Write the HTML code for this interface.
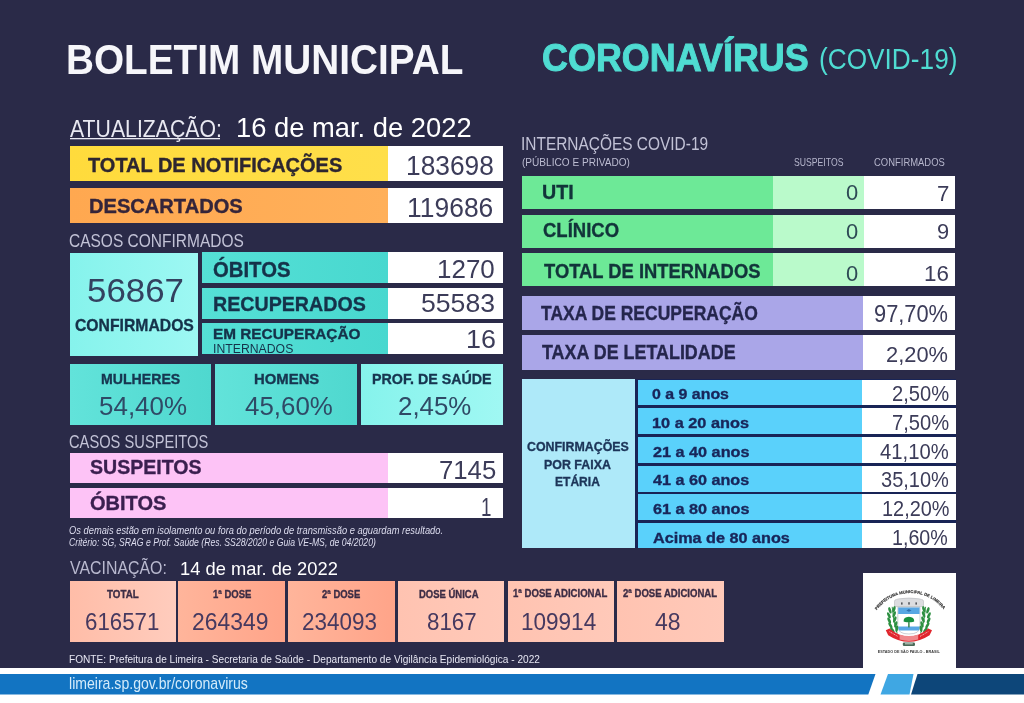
<!DOCTYPE html>
<html lang="pt-BR">
<head>
<meta charset="utf-8">
<title>Boletim Municipal - Coronavírus (COVID-19)</title>
<style>
html,body{margin:0;padding:0}
body{width:1024px;height:703px;overflow:hidden;background:#2a2a48;font-family:"Liberation Sans",sans-serif;position:relative}
.r{position:absolute}
.t{position:absolute;white-space:nowrap;transform-origin:0 0;line-height:1;display:block}
#tx{position:absolute;left:0;top:0;width:1024px;height:703px;will-change:transform}
#pg{position:absolute;left:0;top:0;width:1024px;height:703px;filter:blur(0.4px)}
</style>
</head>
<body>
<div id="pg">
<div class="r" style="left:69.5px;top:146.25px;width:318.5px;height:35px;background:linear-gradient(90deg,#ffdb3c,#ffdf4a)"></div>
<div class="r" style="left:387.5px;top:146.25px;width:115.5px;height:35px;background:#ffffff"></div>
<div class="r" style="left:69.5px;top:187.5px;width:318.5px;height:35px;background:linear-gradient(90deg,#ffa850,#ffb05a)"></div>
<div class="r" style="left:387.5px;top:187.5px;width:115.5px;height:35px;background:#ffffff"></div>
<div class="r" style="left:69.5px;top:252.5px;width:128.5px;height:103px;background:linear-gradient(90deg,#86f3ec,#9df8f3)"></div>
<div class="r" style="left:201.75px;top:252px;width:186.25px;height:31px;background:linear-gradient(90deg,#55e0d6,#48d8cf)"></div>
<div class="r" style="left:387.5px;top:252px;width:115.25px;height:31px;background:#ffffff"></div>
<div class="r" style="left:201.75px;top:288px;width:186.25px;height:30.5px;background:linear-gradient(90deg,#55e0d6,#48d8cf)"></div>
<div class="r" style="left:387.5px;top:288px;width:115.25px;height:30.5px;background:#ffffff"></div>
<div class="r" style="left:201.75px;top:323.25px;width:186.25px;height:30.85px;background:linear-gradient(90deg,#55e0d6,#48d8cf)"></div>
<div class="r" style="left:387.5px;top:323.25px;width:115.25px;height:30.85px;background:#ffffff"></div>
<div class="r" style="left:69.5px;top:364.25px;width:141.75px;height:60.25px;background:linear-gradient(90deg,#62e3da,#4fd8cf)"></div>
<div class="r" style="left:215px;top:364.25px;width:142px;height:60.25px;background:linear-gradient(90deg,#62e3da,#4fd8cf)"></div>
<div class="r" style="left:361.25px;top:364.25px;width:141.5px;height:60.25px;background:linear-gradient(90deg,#86f3ec,#a0f8f3)"></div>
<div class="r" style="left:69.5px;top:453.25px;width:318.5px;height:30px;background:#fdc3f6"></div>
<div class="r" style="left:387.5px;top:453.25px;width:115.25px;height:30px;background:#ffffff"></div>
<div class="r" style="left:69.5px;top:488px;width:318.5px;height:30px;background:#fdc3f6"></div>
<div class="r" style="left:387.5px;top:488px;width:115.25px;height:30px;background:#ffffff"></div>
<div class="r" style="left:69.5px;top:580.6px;width:106.25px;height:61.3px;background:linear-gradient(90deg,#ffbda8,#ffccbd)"></div>
<div class="r" style="left:178.25px;top:580.6px;width:106.5px;height:61.3px;background:linear-gradient(90deg,#ffb59b,#ffa489)"></div>
<div class="r" style="left:288px;top:580.6px;width:107px;height:61.3px;background:linear-gradient(90deg,#ffb59b,#ffa489)"></div>
<div class="r" style="left:398px;top:580.6px;width:106.25px;height:61.3px;background:linear-gradient(90deg,#ffc3b1,#ffc9b9)"></div>
<div class="r" style="left:507.5px;top:580.6px;width:106px;height:61.3px;background:linear-gradient(90deg,#ffc3b1,#ffc9b9)"></div>
<div class="r" style="left:617px;top:580.6px;width:106.5px;height:61.3px;background:linear-gradient(90deg,#ffc3b1,#ffc9b9)"></div>
<div class="r" style="left:522px;top:175.75px;width:251.5px;height:33px;background:#6de997"></div>
<div class="r" style="left:773px;top:175.75px;width:91px;height:33px;background:#bafacb"></div>
<div class="r" style="left:863.75px;top:175.75px;width:91.5px;height:33px;background:#ffffff"></div>
<div class="r" style="left:522px;top:214.5px;width:251.5px;height:33px;background:#6de997"></div>
<div class="r" style="left:773px;top:214.5px;width:91px;height:33px;background:#bafacb"></div>
<div class="r" style="left:863.75px;top:214.5px;width:91.5px;height:33px;background:#ffffff"></div>
<div class="r" style="left:522px;top:253px;width:251.5px;height:33.25px;background:#6de997"></div>
<div class="r" style="left:773px;top:253px;width:91px;height:33.25px;background:#bafacb"></div>
<div class="r" style="left:863.75px;top:253px;width:91.5px;height:33.25px;background:#ffffff"></div>
<div class="r" style="left:521.75px;top:295.75px;width:341.25px;height:34.25px;background:#aaa6e8"></div>
<div class="r" style="left:862.5px;top:295.75px;width:92.75px;height:34.25px;background:#ffffff"></div>
<div class="r" style="left:521.75px;top:335px;width:341.25px;height:34.5px;background:#aaa6e8"></div>
<div class="r" style="left:862.5px;top:335px;width:92.75px;height:34.5px;background:#ffffff"></div>
<div class="r" style="left:522px;top:379px;width:113.25px;height:169.25px;background:#aee9f9"></div>
<div class="r" style="left:635px;top:379.25px;width:320.5px;height:169px;background:#182456"></div>
<div class="r" style="left:637.5px;top:379.5px;width:225px;height:25.5px;background:#5ad1fb"></div>
<div class="r" style="left:862px;top:379.5px;width:93.5px;height:25.5px;background:#ffffff"></div>
<div class="r" style="left:637.5px;top:407.75px;width:225px;height:26px;background:#5ad1fb"></div>
<div class="r" style="left:862px;top:407.75px;width:93.5px;height:26px;background:#ffffff"></div>
<div class="r" style="left:637.5px;top:436.5px;width:225px;height:26.25px;background:#5ad1fb"></div>
<div class="r" style="left:862px;top:436.5px;width:93.5px;height:26.25px;background:#ffffff"></div>
<div class="r" style="left:637.5px;top:465.5px;width:225px;height:26px;background:#5ad1fb"></div>
<div class="r" style="left:862px;top:465.5px;width:93.5px;height:26px;background:#ffffff"></div>
<div class="r" style="left:637.5px;top:494.25px;width:225px;height:26px;background:#5ad1fb"></div>
<div class="r" style="left:862px;top:494.25px;width:93.5px;height:26px;background:#ffffff"></div>
<div class="r" style="left:637.5px;top:523.25px;width:225px;height:25px;background:#5ad1fb"></div>
<div class="r" style="left:862px;top:523.25px;width:93.5px;height:25px;background:#ffffff"></div>
<div class="r" style="left:863px;top:573px;width:93px;height:95.5px;background:#ffffff"></div>
<div class="r" style="left:-20px;top:667.75px;width:1064px;height:62.25px;background:#ffffff"></div>
<svg class="r" style="left:0;top:0;overflow:visible" width="1024" height="703" viewBox="0 0 1024 703">
<!-- bottom bar -->
<polygon points="-20,674 875.5,674 868.3,694.6 -20,694.6" fill="#1274c2"/>
<polygon points="888,674 913.5,674 909.5,694.6 880.5,694.6" fill="#3fa7e3"/>
<polygon points="917.5,674 1044,674 1044,694.6 911,694.6" fill="#0d4679"/>
<!-- underline of ATUALIZACAO -->
<rect x="70" y="138" width="150" height="1.3" fill="#e9e9f2"/>
<!-- coat of arms -->
<g id="logo">
<defs><path id="arc" d="M 875.6 612.0 A 41.5 41.5 0 0 1 944.6 611.0"/></defs>
<text font-family="Liberation Sans, sans-serif" font-weight="700" font-size="4.1" fill="#333" stroke="#333" stroke-width="0.15"><textPath href="#arc" startOffset="50%" text-anchor="middle" textLength="77" lengthAdjust="spacingAndGlyphs">PREFEITURA MUNICIPAL DE LIMEIRA</textPath></text>
<!-- mural crown -->
<path d="M894.5 606.6 L894.5 601.2 Q894.5 599.6 896.5 599.4 L899 598.8 Q909 597.2 919 598.8 L921.5 599.4 Q923.5 599.6 923.5 601.2 L923.5 606.6 Z" fill="#dcdde0" stroke="#a3a6ab" stroke-width="0.45"/>
<rect x="901" y="602.4" width="1.6" height="2.2" fill="#55585e"/><rect x="908.2" y="602.2" width="1.6" height="2.4" fill="#55585e"/><rect x="915.4" y="602.4" width="1.6" height="2.2" fill="#55585e"/>
<!-- shield -->
<path d="M897.8 607.2 H920 V626.6 Q920 634 908.9 634 Q897.8 634 897.8 626.6 Z" fill="#ffffff" stroke="#9aa0a8" stroke-width="0.5"/>
<path d="M898.2 607.5 H919.6 V614 H898.2 Z" fill="#58a7e4"/>
<path d="M898.2 626.5 H919.6 V627.2 Q919.6 629.2 918.6 630.4 H899.2 Q898.2 629.2 898.2 627.2 Z" fill="#58a7e4"/>
<path d="M906.3 610.4 l2.6 -1.3 l2.6 1.3 l-2.6 1.3 Z" fill="#2e6fb0"/>
<!-- tree -->
<path d="M903.6 621.6 Q903.3 617 908.9 616.8 Q914.5 617 914.2 621.6 Q911.6 622.8 908.9 622 Q906.2 622.8 903.6 621.6 Z" fill="#18903f"/>
<rect x="908.2" y="621.6" width="1.4" height="5.8" fill="#2a7d3f"/>
<!-- branches -->
<g id="br" fill="#2c8f40">
<path d="M897.2 633.5 Q893.2 622 892.2 606.8" fill="none" stroke="#2c8f40" stroke-width="0.9"/>
<ellipse cx="889.9" cy="610.3" rx="1.35" ry="3.3" transform="rotate(-18 889.9 610.3)"/>
<ellipse cx="888.9" cy="615.3" rx="1.35" ry="3.3" transform="rotate(-24 888.9 615.3)"/>
<ellipse cx="889.2" cy="620.4" rx="1.35" ry="3.3" transform="rotate(-24 889.2 620.4)"/>
<ellipse cx="890.4" cy="625.4" rx="1.35" ry="3.3" transform="rotate(-30 890.4 625.4)"/>
<ellipse cx="892.4" cy="630.0" rx="1.35" ry="3.3" transform="rotate(-36 892.4 630.0)"/>
<ellipse cx="894.0" cy="609.3" rx="1.35" ry="3.3" transform="rotate(16 894.0 609.3)"/>
<ellipse cx="894.2" cy="614.4" rx="1.35" ry="3.3" transform="rotate(20 894.2 614.4)"/>
<ellipse cx="894.8" cy="619.5" rx="1.35" ry="3.3" transform="rotate(20 894.8 619.5)"/>
<ellipse cx="895.8" cy="624.4" rx="1.35" ry="3.3" transform="rotate(16 895.8 624.4)"/>
<ellipse cx="896.8" cy="628.8" rx="1.35" ry="3.3" transform="rotate(8 896.8 628.8)"/>
</g>
<use href="#br" transform="translate(1817.8,0) scale(-1,1)"/>
<!-- ribbon -->
<path d="M885.8 630.2 L889.5 628.4 Q899 636.4 908.9 636.4 Q918.8 636.4 928.3 628.4 L932 630.2 L929.6 635.2 Q919.5 641.8 908.9 641.8 Q898.3 641.8 888.2 635.2 Z" fill="#e0262d"/>
<path d="M889.5 631.6 L897.8 636.4 M920 636.4 L928.3 631.6" stroke="#f6b0b3" stroke-width="1" fill="none" stroke-dasharray="1.1 0.7"/>
<path d="M899.6 634.4 Q908.9 637.4 918.2 634.4 L918.2 639.6 Q908.9 642.4 899.6 639.6 Z" fill="#f0888c"/>
<rect x="902.8" y="642.6" width="12.2" height="3.4" rx="1.2" fill="#4b6a58"/><rect x="905" y="643.3" width="7.8" height="1" fill="#c5d3c9"/>
<text x="908.8" y="653.4" text-anchor="middle" font-family="Liberation Sans, sans-serif" font-weight="700" font-size="3.3" fill="#3a3a3a" textLength="62" lengthAdjust="spacingAndGlyphs">ESTADO DE SÃO PAULO - BRASIL</text>
</g>
</svg>

<div id="tx">
<div class="t" style="left:66.43px;top:34.86px;font-size:43px;line-height:48px;font-weight:700;font-style:normal;color:#f6f6fa;transform:scale(0.9009,0.9972)">BOLETIM MUNICIPAL</div>
<div class="t" style="left:541.56px;top:36.28px;font-size:39px;line-height:43px;font-weight:700;font-style:normal;color:#4fdcd2;-webkit-text-stroke:1.01px currentColor;transform:scale(0.9211,0.9876)">CORONAVÍRUS</div>
<div class="t" style="left:819.18px;top:41.53px;font-size:30px;line-height:33px;font-weight:400;font-style:normal;color:#4fdcd2;transform:scale(0.8744,0.9932)">(COVID-19)</div>
<div class="t" style="left:70.00px;top:114.88px;font-size:24px;line-height:27px;font-weight:400;font-style:normal;color:#e9e9f2;transform:scale(0.8851,1.0053)">ATUALIZAÇÃO:</div>
<div class="t" style="left:235.59px;top:111.77px;font-size:28px;line-height:31px;font-weight:400;font-style:normal;color:#ffffff;transform:scale(0.9767,0.9993)">16 de mar. de 2022</div>
<div class="t" style="left:88.18px;top:154.21px;font-size:20px;line-height:22px;font-weight:700;font-style:normal;color:#2d2630;-webkit-text-stroke:0.35px currentColor;transform:scale(0.9991,1.0065)">TOTAL DE NOTIFICAÇÕES</div>
<div class="t" style="left:89.47px;top:194.71px;font-size:20px;line-height:22px;font-weight:700;font-style:normal;color:#35253a;-webkit-text-stroke:0.35px currentColor;transform:scale(1.0048,1.0065)">DESCARTADOS</div>
<div class="t" style="left:405.66px;top:151.16px;font-size:27px;line-height:30px;font-weight:400;font-style:normal;color:#3c3c59;transform:scale(0.9744,1.0142)">183698</div>
<div class="t" style="left:407.15px;top:192.91px;font-size:27px;line-height:30px;font-weight:400;font-style:normal;color:#3c3c59;transform:scale(0.9797,1.0142)">119686</div>
<div class="t" style="left:68.72px;top:230.42px;font-size:19px;line-height:21px;font-weight:400;font-style:normal;color:#c2c2d6;transform:scale(0.8159,0.9754)">CASOS CONFIRMADOS</div>
<div class="t" style="left:86.60px;top:272.11px;font-size:33px;line-height:37px;font-weight:400;font-style:normal;color:#33415f;transform:scale(1.0571,1.0130)">56867</div>
<div class="t" style="left:74.55px;top:315.70px;font-size:17px;line-height:19px;font-weight:700;font-style:normal;color:#15324a;-webkit-text-stroke:0.36px currentColor;transform:scale(0.9254,0.9747)">CONFIRMADOS</div>
<div class="t" style="left:213.11px;top:258.06px;font-size:21px;line-height:23px;font-weight:700;font-style:normal;color:#15324a;-webkit-text-stroke:0.35px currentColor;transform:scale(0.9668,1.0140)">ÓBITOS</div>
<div class="t" style="left:212.75px;top:292.47px;font-size:21px;line-height:23px;font-weight:700;font-style:normal;color:#15324a;-webkit-text-stroke:0.36px currentColor;transform:scale(0.9354,0.9794)">RECUPERADOS</div>
<div class="t" style="left:213.00px;top:325.31px;font-size:15px;line-height:17px;font-weight:700;font-style:normal;color:#15324a;-webkit-text-stroke:0.36px currentColor;transform:scale(1.0224,0.9835)">EM RECUPERAÇÃO</div>
<div class="t" style="left:212.65px;top:340.76px;font-size:13px;line-height:15px;font-weight:400;font-style:normal;color:#15324a;transform:scale(0.9422,0.9783)">INTERNADOS</div>
<div class="t" style="left:436.93px;top:254.37px;font-size:26px;line-height:30px;font-weight:400;font-style:normal;color:#3c3c59;transform:scale(0.9985,0.9848)">1270</div>
<div class="t" style="left:420.69px;top:288.04px;font-size:26px;line-height:30px;font-weight:400;font-style:normal;color:#3c3c59;transform:scale(1.0239,0.9985)">55583</div>
<div class="t" style="left:466.12px;top:324.37px;font-size:26px;line-height:30px;font-weight:400;font-style:normal;color:#3c3c59;transform:scale(1.0321,0.9848)">16</div>
<div class="t" style="left:101.08px;top:370.96px;font-size:14px;line-height:16px;font-weight:700;font-style:normal;color:#173650;-webkit-text-stroke:0.34px currentColor;transform:scale(1.0091,1.0278)">MULHERES</div>
<div class="t" style="left:98.96px;top:391.04px;font-size:26px;line-height:30px;font-weight:400;font-style:normal;color:#2f4a66;transform:scale(0.9985,0.9985)">54,40%</div>
<div class="t" style="left:253.78px;top:370.80px;font-size:14px;line-height:16px;font-weight:700;font-style:normal;color:#173650;-webkit-text-stroke:0.34px currentColor;transform:scale(1.0626,1.0330)">HOMENS</div>
<div class="t" style="left:245.48px;top:391.23px;font-size:26px;line-height:30px;font-weight:400;font-style:normal;color:#2f4a66;transform:scale(0.9965,0.9903)">45,60%</div>
<div class="t" style="left:371.92px;top:370.06px;font-size:15px;line-height:17px;font-weight:700;font-style:normal;color:#173650;-webkit-text-stroke:0.36px currentColor;transform:scale(0.9506,0.9835)">PROF. DE SAÚDE</div>
<div class="t" style="left:398.21px;top:391.29px;font-size:26px;line-height:30px;font-weight:400;font-style:normal;color:#2f4a66;transform:scale(0.9942,0.9985)">2,45%</div>
<div class="t" style="left:68.77px;top:431.17px;font-size:19px;line-height:21px;font-weight:400;font-style:normal;color:#c2c2d6;transform:scale(0.7729,0.9754)">CASOS SUSPEITOS</div>
<div class="t" style="left:90.28px;top:455.89px;font-size:20px;line-height:22px;font-weight:700;font-style:normal;color:#3a1f4f;-webkit-text-stroke:0.35px currentColor;transform:scale(0.9772,1.0102)">SUSPEITOS</div>
<div class="t" style="left:89.87px;top:492.14px;font-size:20px;line-height:22px;font-weight:700;font-style:normal;color:#3a1f4f;-webkit-text-stroke:0.35px currentColor;transform:scale(1.0018,1.0102)">ÓBITOS</div>
<div class="t" style="left:438.71px;top:455.04px;font-size:26px;line-height:30px;font-weight:400;font-style:normal;color:#3c3c59;transform:scale(0.9892,0.9985)">7145</div>
<div class="t" style="left:481.19px;top:491.87px;font-size:26px;line-height:30px;font-weight:400;font-style:normal;color:#3c3c59;transform:scale(0.7212,0.9848)">1</div>
<div class="t" style="left:69.03px;top:523.84px;font-size:11px;line-height:12px;font-weight:400;font-style:italic;color:#dcdcee;transform:scale(0.8485,0.9910)">Os demais estão em isolamento ou fora do período de transmissão e aguardam resultado.</div>
<div class="t" style="left:69.07px;top:536.34px;font-size:11px;line-height:12px;font-weight:400;font-style:italic;color:#dcdcee;transform:scale(0.7867,0.9910)">Critério: SG, SRAG e Prof. Saúde (Res. SS28/2020 e Guia VE-MS, de 04/2020)</div>
<div class="t" style="left:69.50px;top:557.60px;font-size:18px;line-height:20px;font-weight:400;font-style:normal;color:#b9b9cf;transform:scale(0.8834,1.0094)">VACINAÇÃO:</div>
<div class="t" style="left:179.97px;top:557.77px;font-size:19px;line-height:21px;font-weight:400;font-style:normal;color:#ffffff;transform:scale(0.9642,1.0136)">14 de mar. de 2022</div>
<div class="t" style="left:107.08px;top:588.30px;font-size:11px;line-height:12px;font-weight:700;font-style:normal;color:#3d2d45;-webkit-text-stroke:0.36px currentColor;transform:scale(0.8894,0.9778)">TOTAL</div>
<div class="t" style="left:212.80px;top:588.30px;font-size:11px;line-height:12px;font-weight:700;font-style:normal;color:#3d2d45;-webkit-text-stroke:0.36px currentColor;transform:scale(0.8639,0.9778)">1ª DOSE</div>
<div class="t" style="left:321.89px;top:588.30px;font-size:11px;line-height:12px;font-weight:700;font-style:normal;color:#3d2d45;-webkit-text-stroke:0.36px currentColor;transform:scale(0.8596,0.9778)">2ª DOSE</div>
<div class="t" style="left:419.31px;top:588.30px;font-size:11px;line-height:12px;font-weight:700;font-style:normal;color:#3d2d45;-webkit-text-stroke:0.36px currentColor;transform:scale(0.8620,0.9778)">DOSE ÚNICA</div>
<div class="t" style="left:513.35px;top:587.30px;font-size:11px;line-height:12px;font-weight:700;font-style:normal;color:#3d2d45;-webkit-text-stroke:0.36px currentColor;transform:scale(0.8719,0.9778)">1ª DOSE ADICIONAL</div>
<div class="t" style="left:622.64px;top:587.30px;font-size:11px;line-height:12px;font-weight:700;font-style:normal;color:#3d2d45;-webkit-text-stroke:0.36px currentColor;transform:scale(0.8693,0.9778)">2ª DOSE ADICIONAL</div>
<div class="t" style="left:84.64px;top:608.84px;font-size:23px;line-height:26px;font-weight:400;font-style:normal;color:#46395f;transform:scale(0.9693,1.0174)">616571</div>
<div class="t" style="left:192.36px;top:608.84px;font-size:23px;line-height:26px;font-weight:400;font-style:normal;color:#46395f;transform:scale(0.9955,1.0174)">264349</div>
<div class="t" style="left:302.38px;top:608.84px;font-size:23px;line-height:26px;font-weight:400;font-style:normal;color:#46395f;transform:scale(0.9764,1.0174)">234093</div>
<div class="t" style="left:427.41px;top:608.84px;font-size:23px;line-height:26px;font-weight:400;font-style:normal;color:#46395f;transform:scale(0.9719,1.0174)">8167</div>
<div class="t" style="left:520.92px;top:608.84px;font-size:23px;line-height:26px;font-weight:400;font-style:normal;color:#46395f;transform:scale(0.9794,1.0174)">109914</div>
<div class="t" style="left:654.54px;top:608.84px;font-size:23px;line-height:26px;font-weight:400;font-style:normal;color:#46395f;transform:scale(0.9983,1.0174)">48</div>
<div class="t" style="left:68.79px;top:652.09px;font-size:12px;line-height:14px;font-weight:400;font-style:normal;color:#e6e6f2;transform:scale(0.8428,0.9690)">FONTE: Prefeitura de Limeira - Secretaria de Saúde - Departamento de Vigilância Epidemiológica - 2022</div>
<div class="t" style="left:68.76px;top:674.27px;font-size:17px;line-height:19px;font-weight:400;font-style:normal;color:#d4ebfa;transform:scale(0.8279,1.0089)">limeira.sp.gov.br/coronavirus</div>
<div class="t" style="left:521.11px;top:133.85px;font-size:18px;line-height:20px;font-weight:400;font-style:normal;color:#c2c2d6;transform:scale(0.8581,1.0094)">INTERNAÇÕES COVID-19</div>
<div class="t" style="left:521.90px;top:155.51px;font-size:11px;line-height:12px;font-weight:400;font-style:normal;color:#bdbdd2;transform:scale(0.9162,1.0240)">(PÚBLICO E PRIVADO)</div>
<div class="t" style="left:794.15px;top:154.99px;font-size:12px;line-height:14px;font-weight:400;font-style:normal;color:#b6b6cc;transform:scale(0.7218,0.9690)">SUSPEITOS</div>
<div class="t" style="left:874.03px;top:154.99px;font-size:12px;line-height:14px;font-weight:400;font-style:normal;color:#b6b6cc;transform:scale(0.7869,0.9690)">CONFIRMADOS</div>
<div class="t" style="left:542.24px;top:182.30px;font-size:19px;line-height:21px;font-weight:700;font-style:normal;color:#12343a;-webkit-text-stroke:0.34px currentColor;transform:scale(1.0364,1.0251)">UTI</div>
<div class="t" style="left:542.68px;top:220.30px;font-size:19px;line-height:21px;font-weight:700;font-style:normal;color:#12343a;-webkit-text-stroke:0.34px currentColor;transform:scale(0.9742,1.0251)">CLÍNICO</div>
<div class="t" style="left:543.74px;top:259.47px;font-size:21px;line-height:23px;font-weight:700;font-style:normal;color:#12343a;-webkit-text-stroke:0.36px currentColor;transform:scale(0.8750,0.9794)">TOTAL DE INTERNADOS</div>
<div class="t" style="left:845.59px;top:180.38px;font-size:22px;line-height:25px;font-weight:400;font-style:normal;color:#2e4a55;transform:scale(0.9972,1.0184)">0</div>
<div class="t" style="left:845.59px;top:218.88px;font-size:22px;line-height:25px;font-weight:400;font-style:normal;color:#2e4a55;transform:scale(0.9972,1.0184)">0</div>
<div class="t" style="left:845.59px;top:259.72px;font-size:23px;line-height:26px;font-weight:400;font-style:normal;color:#2e4a55;transform:scale(0.9539,0.9895)">0</div>
<div class="t" style="left:936.89px;top:181.03px;font-size:22px;line-height:25px;font-weight:400;font-style:normal;color:#3c3c59;transform:scale(1.0128,0.9860)">7</div>
<div class="t" style="left:937.13px;top:218.88px;font-size:22px;line-height:25px;font-weight:400;font-style:normal;color:#3c3c59;transform:scale(0.9913,1.0184)">9</div>
<div class="t" style="left:924.18px;top:259.72px;font-size:23px;line-height:26px;font-weight:400;font-style:normal;color:#3c3c59;transform:scale(0.9723,0.9895)">16</div>
<div class="t" style="left:541.25px;top:302.90px;font-size:19px;line-height:21px;font-weight:700;font-style:normal;color:#25264d;-webkit-text-stroke:0.34px currentColor;transform:scale(0.9211,1.0251)">TAXA DE RECUPERAÇÃO</div>
<div class="t" style="left:541.75px;top:341.90px;font-size:19px;line-height:21px;font-weight:700;font-style:normal;color:#25264d;-webkit-text-stroke:0.34px currentColor;transform:scale(0.9421,1.0251)">TAXA DE LETALIDADE</div>
<div class="t" style="left:873.63px;top:301.39px;font-size:23px;line-height:26px;font-weight:400;font-style:normal;color:#3c3c59;transform:scale(0.9488,1.0050)">97,70%</div>
<div class="t" style="left:885.66px;top:342.13px;font-size:22px;line-height:25px;font-weight:400;font-style:normal;color:#3c3c59;transform:scale(0.9936,1.0184)">2,20%</div>
<div class="t" style="left:527.18px;top:439.13px;font-size:13px;line-height:15px;font-weight:700;font-style:normal;color:#1c3458;-webkit-text-stroke:0.35px currentColor;transform:scale(0.9529,0.9951)">CONFIRMAÇÕES</div>
<div class="t" style="left:544.43px;top:456.63px;font-size:13px;line-height:15px;font-weight:700;font-style:normal;color:#1c3458;-webkit-text-stroke:0.35px currentColor;transform:scale(0.9551,0.9951)">POR FAIXA</div>
<div class="t" style="left:555.20px;top:474.13px;font-size:13px;line-height:15px;font-weight:700;font-style:normal;color:#1c3458;-webkit-text-stroke:0.35px currentColor;transform:scale(0.9277,0.9951)">ETÁRIA</div>
<div class="t" style="left:652.20px;top:385.31px;font-size:15px;line-height:17px;font-weight:700;font-style:normal;color:#18265a;-webkit-text-stroke:0.36px currentColor;transform:scale(1.0608,0.9835)">0 a 9 anos</div>
<div class="t" style="left:652.20px;top:413.81px;font-size:15px;line-height:17px;font-weight:700;font-style:normal;color:#18265a;-webkit-text-stroke:0.36px currentColor;transform:scale(1.0868,0.9835)">10 a 20 anos</div>
<div class="t" style="left:652.69px;top:442.56px;font-size:15px;line-height:17px;font-weight:700;font-style:normal;color:#18265a;-webkit-text-stroke:0.36px currentColor;transform:scale(1.0812,0.9835)">21 a 40 anos</div>
<div class="t" style="left:653.01px;top:471.31px;font-size:15px;line-height:17px;font-weight:700;font-style:normal;color:#18265a;-webkit-text-stroke:0.36px currentColor;transform:scale(1.0776,0.9835)">41 a 60 anos</div>
<div class="t" style="left:652.69px;top:500.06px;font-size:15px;line-height:17px;font-weight:700;font-style:normal;color:#18265a;-webkit-text-stroke:0.36px currentColor;transform:scale(1.0812,0.9835)">61 a 80 anos</div>
<div class="t" style="left:652.85px;top:528.56px;font-size:15px;line-height:17px;font-weight:700;font-style:normal;color:#18265a;-webkit-text-stroke:0.36px currentColor;transform:scale(1.0796,0.9835)">Acima de 80 anos</div>
<div class="t" style="left:892.24px;top:381.94px;font-size:21px;line-height:23px;font-weight:400;font-style:normal;color:#3c3c59;transform:scale(0.9588,1.0161)">2,50%</div>
<div class="t" style="left:892.24px;top:410.69px;font-size:21px;line-height:23px;font-weight:400;font-style:normal;color:#3c3c59;transform:scale(0.9588,1.0161)">7,50%</div>
<div class="t" style="left:880.09px;top:439.94px;font-size:21px;line-height:23px;font-weight:400;font-style:normal;color:#3c3c59;transform:scale(0.9652,1.0161)">41,10%</div>
<div class="t" style="left:881.40px;top:467.94px;font-size:21px;line-height:23px;font-weight:400;font-style:normal;color:#3c3c59;transform:scale(0.9538,1.0161)">35,10%</div>
<div class="t" style="left:881.86px;top:497.19px;font-size:21px;line-height:23px;font-weight:400;font-style:normal;color:#3c3c59;transform:scale(0.9473,1.0161)">12,20%</div>
<div class="t" style="left:892.37px;top:525.94px;font-size:21px;line-height:23px;font-weight:400;font-style:normal;color:#3c3c59;transform:scale(0.9354,1.0161)">1,60%</div>
</div>
</div>
</body>
</html>
